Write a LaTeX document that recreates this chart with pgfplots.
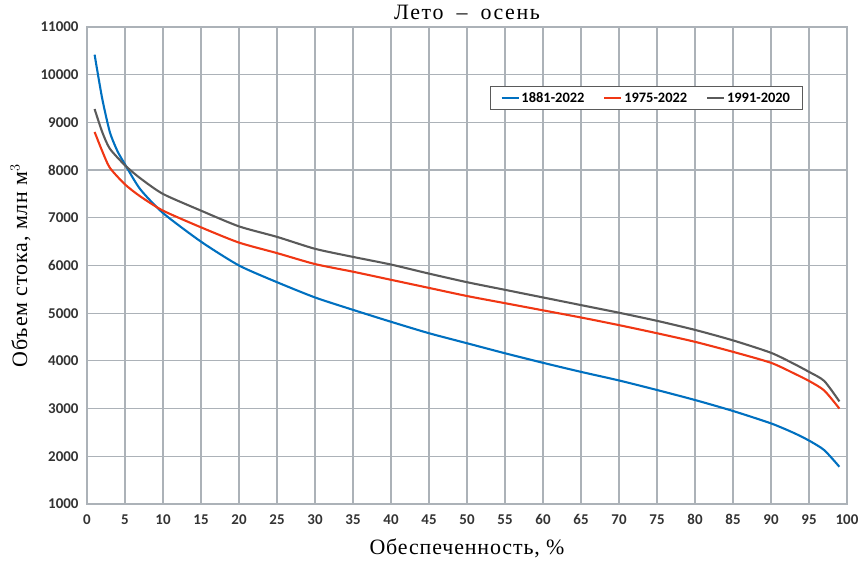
\documentclass[border=0pt]{standalone}
\usepackage{pgfplots}
\pgfplotsset{compat=1.18}
\usepackage{fontspec}
\setmainfont{Liberation Serif}
\newfontfamily\labfont[LetterSpace=4]{Liberation Serif}
\newfontfamily\titfont[LetterSpace=7]{Liberation Serif}
\newfontfamily\tickfont{Carlito}
\definecolor{cblue}{RGB}{0,112,192}
\definecolor{cred}{RGB}{240,55,20}
\definecolor{cgray}{RGB}{90,90,90}
\definecolor{cgrid}{RGB}{172,178,184}
\begin{document}
\begin{tikzpicture}[x=1bp,y=1bp]
\begin{axis}[
  at={(0,0)}, anchor=south west,
  scale only axis,
  width=760bp, height=477bp,
  xmin=0, xmax=100, ymin=1000, ymax=11000,
  xtick={0,5,...,100}, ytick={1000,2000,...,11000},
  scaled y ticks=false,
  grid=major,
  major grid style={cgrid, line width=1.2pt},
  axis line style={cgrid, line width=1.2pt},
  tick style={draw=none},
  /pgf/number format/assume math mode=true,
  /pgf/number format/1000 sep={},
  ticklabel style={font=\tickfont\bfseries\fontsize{15}{15}\selectfont, text=black!80},
  xticklabel style={yshift=-7bp},
  yticklabel style={xshift=-5bp},
  xlabel={Обеспеченность, \%},
  ylabel={Объем стока, млн м$^3$},
  label style={font=\labfont\fontsize{22}{24}\selectfont},
  xlabel style={at={(axis description cs:0.5,0)}, anchor=center, yshift=-44bp},
  ylabel style={at={(axis description cs:-0.0875,0.5)}, anchor=center},
  title={Лето \;–\; осень},
  title style={font=\titfont\fontsize{22}{22}\selectfont, at={(axis description cs:0.5,1)}, anchor=base, yshift=2bp},
  legend style={at={(axis cs:73.6,9510)}, anchor=center, draw=none, name=leg,
    font=\tickfont\bfseries\fontsize{14.5}{14.5}\selectfont, legend columns=3,
    /tikz/every even column/.append style={column sep=17bp}, inner ysep=3.5bp, inner xsep=10bp},
  legend image code/.code={\draw[#1, line width=1.8pt] (0cm,0cm) -- (0.6cm,0cm);},
  every axis plot/.append style={line width=2.1pt, smooth, tension=0.4},
]
\addplot[color=cblue, draw=cblue] coordinates {
(1,10420) (2,9500) (3,8800) (4,8400) (5,8120) (7,7600) (10,7100) (15,6500) (20,6000)
(25,5650) (30,5330) (35,5070) (40,4820) (45,4580) (50,4370) (55,4160) (60,3960)
(65,3770) (70,3590) (75,3390) (80,3180) (85,2950) (90,2690) (93,2490) (95,2330) (97,2130) (99,1780)};
\addlegendentry{1881-2022}
\addplot[color=cred, draw=cred] coordinates {
(1,8800) (2,8400) (3,8050) (5,7700) (7,7450) (10,7150) (15,6800) (20,6480) (25,6260)
(30,6030) (35,5870) (40,5700) (45,5530) (50,5360) (55,5210) (60,5060) (65,4910)
(70,4750) (75,4580) (80,4400) (85,4190) (90,3960) (93,3740) (95,3580) (97,3380) (99,3000)};
\addlegendentry{1975-2022}
\addplot[color=cgray, draw=cgray] coordinates {
(1,9280) (2,8800) (3,8450) (5,8100) (7,7830) (10,7500) (15,7150) (20,6820) (25,6600)
(30,6350) (35,6180) (40,6020) (45,5830) (50,5650) (55,5490) (60,5330) (65,5170)
(70,5010) (75,4840) (80,4650) (85,4430) (90,4170) (93,3940) (95,3770) (97,3580) (99,3150)};
\addlegendentry{1991-2020}
\end{axis}
\draw[cgray, line width=0.9pt] (leg.south west) rectangle (leg.north east);
\pgfresetboundingbox
\path (-87bp,-57bp) rectangle (771bp,504bp);
\end{tikzpicture}
\end{document}
